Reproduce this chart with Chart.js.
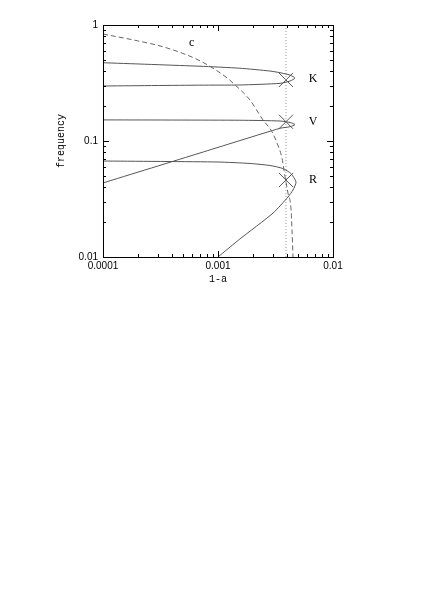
<!DOCTYPE html>
<html>
<head>
<meta charset="utf-8">
<script src="https://cdn.jsdelivr.net/npm/chart.js@4.4.1/dist/chart.umd.min.js"></script>
<style>
  html, body { margin: 0; padding: 0; background: #fff; }
  #wrap { width: 436px; height: 616px; }
</style>
</head>
<body>
<div id="wrap"><canvas id="myChart" width="436" height="616"></canvas></div>
<script>
// axis ticks
const xTicks = [0.0001, 0.001, 0.01];
const xTickLabels = ['0.0001', '0.001', '0.01'];
const yTicks = [0.01, 0.1, 1];
const yTickLabels = ['0.01', '0.1', '1'];
const minorSteps = [2, 3, 4, 5, 6, 7, 8, 9];

// dashed curve "c"
const cX = [0.0001, 0.0002, 0.00036, 0.0007, 0.0012, 0.00135, 0.0019, 0.00246, 0.00295, 0.00326, 0.0036, 0.00383, 0.00406, 0.00432, 0.0044, 0.00449];
const cY = [0.835, 0.73, 0.634, 0.49, 0.35, 0.316, 0.225, 0.152, 0.12, 0.096, 0.0713, 0.049, 0.0356, 0.0254, 0.0171, 0.01];

// K branch (upper then lower)
const kX = [0.0001, 0.000697, 0.00155, 0.00283, 0.00346, 0.00423, 0.00467, 0.00423, 0.00346, 0.00155, 0.000697, 0.0001];
const kY = [0.473, 0.441, 0.424, 0.401, 0.388, 0.370, 0.349, 0.329, 0.314, 0.304, 0.303, 0.298];

// V branch
const vX = [0.0001, 0.00155, 0.00346, 0.00423, 0.00467, 0.00423, 0.00346, 0.000697, 0.0001];
const vY = [0.152, 0.151, 0.1487, 0.1444, 0.1384, 0.1328, 0.1287, 0.0788, 0.0435];

// R branch
const rX = [0.0001, 0.001, 0.0019, 0.00283, 0.00367, 0.00431, 0.00477, 0.00449, 0.00406, 0.00301, 0.00155, 0.001];
const rY = [0.0672, 0.0659, 0.064, 0.0615, 0.0579, 0.0524, 0.0443, 0.0378, 0.0329, 0.0239, 0.0143, 0.01];

// dotted vertical line and crossings
const aLine = 0.0039;
const crossY = [0.336, 0.1466, 0.0461];

// labels
const labelText = ['c', 'K', 'V', 'R'];
const labelX = [0.00059, 0.0067, 0.0067, 0.0067];
const labelY = [0.70, 0.342, 0.147, 0.046];

function pts(xs, ys) {
  return xs.map((x, i) => ({x: x, y: ys[i]}));
}

const framePlugin = {
  id: 'frame',
  afterDraw(chart) {
    const ctx = chart.ctx;
    const a = chart.chartArea;
    const sx = chart.scales.x, sy = chart.scales.y;
    ctx.save();
    ctx.strokeStyle = '#000';
    ctx.lineWidth = 1;
    ctx.strokeRect(Math.round(a.left) + 0.5, Math.round(a.top) + 0.5,
      Math.round(a.right - a.left), Math.round(a.bottom - a.top));

    function tickList(majors) {
      let list = [];
      majors.forEach((m, i) => {
        list.push({v: m, major: true});
        if (i < majors.length - 1) minorSteps.forEach(s => list.push({v: m * s, major: false}));
      });
      return list;
    }
    ctx.beginPath();
    tickList(xTicks).forEach(t => {
      const px = Math.round(sx.getPixelForValue(t.v)) + 0.5;
      const len = t.major ? 6 : 3;
      ctx.moveTo(px, a.bottom); ctx.lineTo(px, a.bottom - len);
      ctx.moveTo(px, a.top); ctx.lineTo(px, a.top + len);
    });
    tickList(yTicks).forEach(t => {
      const py = Math.round(sy.getPixelForValue(t.v)) + 0.5;
      const len = t.major ? 6 : 3;
      ctx.moveTo(a.left, py); ctx.lineTo(a.left + len, py);
      ctx.moveTo(a.right, py); ctx.lineTo(a.right - len, py);
    });
    ctx.stroke();

    ctx.fillStyle = '#000';
    ctx.font = '12px "Liberation Serif"';
    ctx.textAlign = 'center';
    ctx.textBaseline = 'middle';
    labelText.forEach((t, i) => {
      ctx.fillText(t, sx.getPixelForValue(labelX[i]), sy.getPixelForValue(labelY[i]));
    });
    ctx.restore();
  }
};

const lineStyle = {showLine: true, pointRadius: 0, borderWidth: 1, tension: 0.2, fill: false};

new Chart(document.getElementById('myChart'), {
  type: 'scatter',
  data: {
    datasets: [
      Object.assign({}, lineStyle, {label: 'c', data: pts(cX, cY), borderColor: '#666', borderDash: [5, 3],
        cubicInterpolationMode: 'monotone'}),
      Object.assign({label: 'K', data: pts(kX, kY), borderColor: '#555'}, lineStyle),
      Object.assign({label: 'V', data: pts(vX, vY), borderColor: '#555'}, lineStyle),
      Object.assign({label: 'R', data: pts(rX, rY), borderColor: '#555'}, lineStyle),
      {label: 'a', data: [{x: aLine, y: 0.01}, {x: aLine, y: 1}], showLine: true, pointRadius: 0,
        borderColor: '#999', borderWidth: 1, borderDash: [1, 2]},
      {label: 'cross', data: crossY.map(y => ({x: aLine, y: y})), showLine: false,
        pointStyle: 'crossRot', pointRadius: 10, pointBorderColor: '#555', pointBorderWidth: 1,
        pointBackgroundColor: 'rgba(0,0,0,0)'}
    ]
  },
  options: {
    responsive: false,
    animation: false,
    layout: {padding: {left: 50, top: 25, right: 103, bottom: 324}},
    plugins: {legend: {display: false}, tooltip: {enabled: false}},
    scales: {
      x: {
        type: 'logarithmic', position: 'bottom', min: 0.0001, max: 0.01,
        grid: {display: false, drawTicks: false},
        border: {display: false},
        afterBuildTicks: s => { s.ticks = xTicks.map(v => ({value: v})); },
        afterFit: s => { s.height = 35; },
        ticks: {
          autoSkip: false, maxRotation: 0, padding: 3, color: '#000',
          font: {family: '"Liberation Sans"', size: 10},
          callback: v => xTickLabels[xTicks.indexOf(v)]
        },
        title: {display: true, text: '1-a', color: '#000', padding: {top: 0, bottom: 7},
          font: {family: '"Liberation Mono"', size: 10}}
      },
      y: {
        type: 'logarithmic', position: 'left', min: 0.01, max: 1,
        grid: {display: false, drawTicks: false},
        border: {display: false},
        afterBuildTicks: s => { s.ticks = yTicks.map(v => ({value: v})); },
        afterFit: s => { s.width = 53; },
        ticks: {
          autoSkip: false, padding: 5, color: '#000',
          font: {family: '"Liberation Sans"', size: 10},
          callback: v => yTickLabels[yTicks.indexOf(v)]
        },
        title: {display: true, text: 'frequency', color: '#000', padding: {top: 5, bottom: 0},
          font: {family: '"Liberation Mono"', size: 10}}
      }
    }
  },
  plugins: [framePlugin]
});
</script>
</body>
</html>
